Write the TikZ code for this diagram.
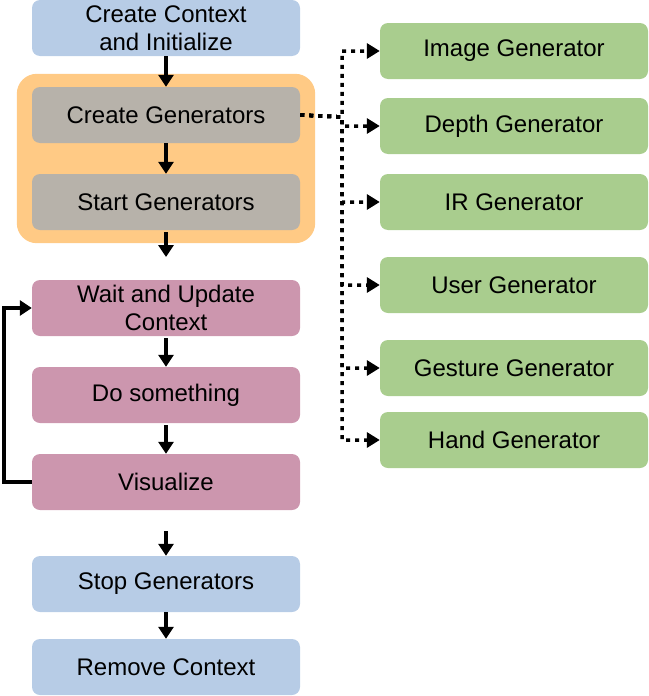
\documentclass[tikz,border=0pt]{standalone}
\usepackage{fontspec}
\setmainfont{Liberation Sans}
\usetikzlibrary{positioning,arrows.meta,fit,backgrounds}
\definecolor{ctxblue}{RGB}{183,204,230}
\definecolor{grouporange}{RGB}{255,202,133}
\definecolor{gengray}{RGB}{183,178,170}
\definecolor{looppink}{RGB}{204,150,174}
\definecolor{gengreen}{RGB}{169,205,142}
\tikzset{
    stepbox/.style={rounded corners=8pt,minimum width=268pt,minimum height=56pt,
        align=center,inner sep=0pt,font=\fontsize{24}{28}\selectfont},
    flow/.style={line width=3.5pt,-{Triangle[length=12pt,width=15pt]}},
    genlink/.style={line width=3.5pt,dash pattern=on 4pt off 5pt,
        -{Triangle[length=13pt,width=15pt]}},
}

\begin{document}
\begin{tikzpicture}[x=1pt,y=-1pt]
    \useasboundingbox (0,0) rectangle (648,696);

    \node[stepbox,fill=ctxblue] (ctx) at (166,28) {Create Context\\and Initialize};
    \node[stepbox,fill=gengray] (cg) at (166,115) {Create Generators};
    \node[stepbox,fill=gengray] (sg) at (166,202) {Start Generators};
    \node[stepbox,fill=looppink] (wait) at (166,308) {Wait and Update\\Context};
    \node[stepbox,fill=looppink] (do) at (166,395) {Do something};
    \node[stepbox,fill=looppink] (vis) at (166,482) {Visualize};
    \node[stepbox,fill=ctxblue] (stop) at (166,584) {Stop Generators};
    \node[stepbox,fill=ctxblue] (rem) at (166,667) {Remove Context};

    \begin{scope}[on background layer]
        \node[fit=(cg)(sg),inner xsep=15pt,inner ysep=13pt,rounded corners=20pt,
            fill=grouporange] (group) {};
    \end{scope}

    \node[stepbox,fill=gengreen] (img) at (514,51) {Image Generator};
    \node[stepbox,fill=gengreen] (depth) at (514,126) {Depth Generator};
    \node[stepbox,fill=gengreen] (ir) at (514,202) {IR Generator};
    \node[stepbox,fill=gengreen] (user) at (514,285) {User Generator};
    \node[stepbox,fill=gengreen] (gesture) at (514,368) {Gesture Generator};
    \node[stepbox,fill=gengreen] (hand) at (514,440) {Hand Generator};

    \coordinate (gap1) at (166,257);
    \coordinate (gap2) at (166,531);
    \coordinate (bus) at (342,117);

    \draw[flow] (ctx) -- (cg);
    \draw[flow] (cg) -- (sg);
    \draw[flow] ([yshift=-2pt]sg.south) -- (gap1);
    \draw[flow] ([yshift=-2pt]wait.south) -- (do.north);
    \draw[flow] ([yshift=-2pt]do.south) -- (vis.north);
    \draw[flow] (gap2) -- (stop.north);
    \draw[flow] (stop) -- (rem);
    \draw[flow] (vis.west) -- ++(-28,0) |- (wait.west);

    \foreach \g in {img,depth,ir,user,gesture,hand} {
        \draw[genlink] (cg.east) -- (bus) |- (\g.west);
    }
\end{tikzpicture}
\end{document}
